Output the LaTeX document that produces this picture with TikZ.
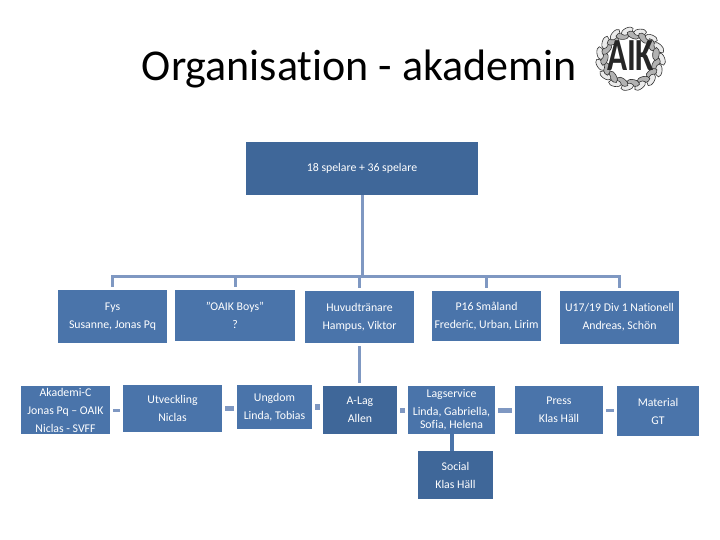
\documentclass[tikz,border=0pt]{standalone}
\usepackage{fontspec}
\setmainfont{Carlito}[Ligatures=CommonOff]
\usepackage{xcolor}
\usetikzlibrary{calc,shapes.geometric}
\definecolor{boxblue}{HTML}{4A74AA}
\definecolor{boxdark}{HTML}{3F6799}
\definecolor{linkblue}{HTML}{7F98C2}
\tikzset{
  orgbox/.style={fill=boxblue,text=white,inner sep=0pt,align=center,font=\fontsize{11.8}{18}\selectfont},
  darkbox/.style={orgbox,fill=boxdark},
  link/.style={draw=linkblue,line width=3pt,shorten <=3pt,shorten >=3pt},
  leaf/.style={draw=black!80,fill=black!8,line width=0.6pt,ellipse,minimum width=13pt,minimum height=6.5pt,inner sep=0pt}
}
\begin{document}
\begin{tikzpicture}[x=1pt,y=-1pt]
\useasboundingbox (0,0) rectangle (720,540);
\node (title) at (359.5,69.5) {\fontsize{44}{48}\selectfont Organisation - akademin};
% logo
\foreach \a in {0,24,...,336} {
  \node[leaf,rotate=110-\a] (outer\a) at ($(630.5,59)+(\a:31 and 28)$) {};
  \node[leaf,rotate=60-\a,fill=black!30] (inner\a) at ($(630.5,59)+(\a+12:26 and 24)$) {};
}
\node[inner sep=0pt,xscale=.72,transform shape,font=\bfseries\fontsize{46}{46}\selectfont,text=black!85] (logotext) at (630.5,56) {AIK};
% top
\node[darkbox,minimum width=232pt,minimum height=53pt] (top) at (362,168.5) {18 spelare + 36 spelare};
% middle row
\node[orgbox,minimum width=109pt,minimum height=53pt] (fys) at (112.5,316.5) {Fys\\Susanne, Jonas Pq};
\node[orgbox,minimum width=120pt,minimum height=51pt] (boys) at (235,315.5) {”OAIK Boys”\\?};
\node[orgbox,minimum width=109pt,minimum height=52pt] (huvud) at (359.5,317) {Huvudtränare\\Hampus, Viktor};
\node[orgbox,minimum width=109pt,minimum height=50pt] (p16) at (486.5,316) {P16 Småland\\Frederic, Urban, Lirim};
\node[orgbox,minimum width=119pt,minimum height=53pt] (u17) at (619.5,317.5) {U17/19 Div 1 Nationell\\Andreas, Schön};
% bottom row
\node[orgbox,minimum width=89pt,minimum height=48pt] (akademi) at (65.5,410) {Akademi-C\\Jonas Pq – OAIK\\Niclas - SVFF};
\node[orgbox,minimum width=99pt,minimum height=47pt] (utv) at (172.5,408.5) {Utveckling\\Niclas};
\node[orgbox,minimum width=75pt,minimum height=44pt] (ungdom) at (274.5,407) {Ungdom\\Linda, Tobias};
\node[darkbox,minimum width=74pt,minimum height=48pt] (alag) at (360,410) {A-Lag\\Allen};
\node[orgbox,minimum width=87pt,minimum height=48pt] (lag) at (451.5,410) {Lagservice\\Linda, Gabriella,\\[-5pt]Sofia, Helena};
\node[orgbox,minimum width=88pt,minimum height=48pt] (press) at (559,410) {Press\\Klas Häll};
\node[orgbox,minimum width=82pt,minimum height=50pt] (material) at (658,411) {Material\\GT};
\node[darkbox,minimum width=75pt,minimum height=48pt] (social) at (455.5,475) {Social\\Klas Häll};
% links
\coordinate (bar) at (362,276);
\foreach \n in {fys,boys,huvud,p16,u17}
  \draw[link,shorten <=0pt] (top.south) -- (bar) -| (\n.north);
\draw[link] (huvud.south) -- (huvud.south |- alag.north);
\draw[link] (akademi.east) -- (akademi.east -| utv.west);
\draw[link,line width=5pt] (utv.east) -- (utv.east -| ungdom.west);
\draw[link,line width=6pt] (ungdom.east) -- (ungdom.east -| alag.west);
\draw[link,line width=5pt] (alag.east) -- (alag.east -| lag.west);
\draw[link,line width=5pt] (lag.east) -- (lag.east -| press.west);
\draw[link] (press.east) -- (press.east -| material.west);
\draw[link,line width=4pt,draw=boxblue,shorten <=0pt,shorten >=0pt] (lag.south) -- (lag.south |- social.north);
\end{tikzpicture}
\end{document}
